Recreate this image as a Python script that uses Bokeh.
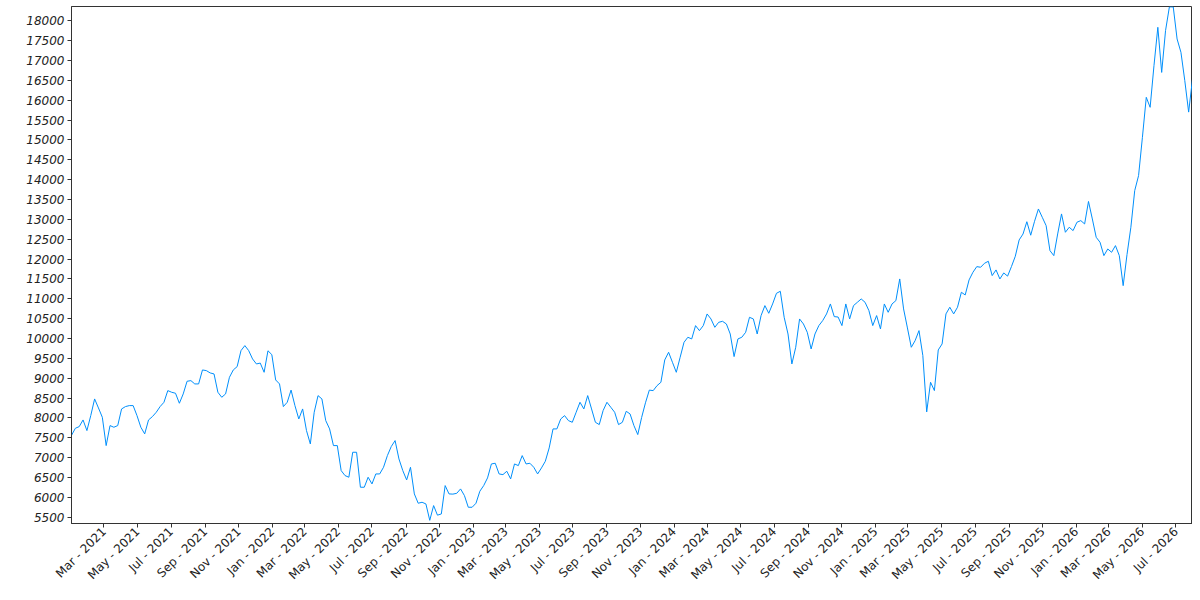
import math
import pandas as pd
from bokeh.plotting import figure
from bokeh.models import (ColumnDataSource, LinearAxis, FixedTicker,
                          DatetimeTickFormatter, Range1d)
from bokeh.embed import file_html
from bokeh.resources import INLINE

# ---- data (weekly readings) ----
start_date = "2021-01-01"
end_date = "2026-07-31"
values = [
    7560, 7738, 7780, 7948, 7680, 8057, 8477, 8250, 8015, 7302,
    7806, 7764, 7806, 8225, 8284, 8309, 8309, 8057, 7764, 7596,
    7948, 8032, 8141, 8284, 8393, 8687, 8645, 8620, 8368, 8603,
    8922, 8938, 8855, 8855, 9207, 9190, 9132, 9106, 8645, 8519,
    8603, 9022, 9207, 9291, 9694, 9820, 9694, 9484, 9358, 9380,
    9148, 9690, 9593, 8955, 8855, 8284, 8393, 8700, 8309, 7973,
    8225, 7680, 7344, 8141, 8560, 8477, 7931, 7722, 7302, 7302,
    6672, 6547, 6505, 7134, 7134, 6253, 6253, 6505, 6337, 6588,
    6588, 6756, 7050, 7277, 7428, 6966, 6672, 6437, 6756, 6085,
    5850, 5875, 5833, 5420, 5791, 5550, 5580, 6295, 6085, 6080,
    6100, 6211, 6043, 5749, 5749, 5850, 6152, 6295, 6488, 6840,
    6857, 6588, 6571, 6656, 6463, 6840, 6798, 7050, 6840, 6857,
    6756, 6588, 6740, 6907, 7243, 7722, 7722, 7973, 8057, 7931,
    7889, 8141, 8393, 8225, 8561, 8225, 7889, 7831, 8183, 8393,
    8267, 8141, 7831, 7889, 8166, 8099, 7806, 7579, 8010, 8380,
    8700, 8686, 8812, 8896, 9459, 9652, 9400, 9148, 9526, 9903,
    10030, 9988, 10323, 10197, 10323, 10617, 10491, 10281, 10407, 10432,
    10365, 10113, 9543, 9988, 10030, 10155, 10533, 10491, 10113, 10575,
    10827, 10634, 10869, 11137, 11188, 10533, 10113, 9358, 9778, 10491,
    10365, 10155, 9736, 10113, 10323, 10449, 10617, 10869, 10550, 10540,
    10324, 10869, 10492, 10827, 10911, 10995, 10911, 10701, 10324, 10576,
    10240, 10869, 10659, 10869, 10953, 11499, 10744, 10265, 9778, 9946,
    10198, 9569, 8150, 8897, 8687, 9711, 9862, 10618, 10786, 10618,
    10786, 11163, 11096, 11474, 11667, 11809, 11793, 11893, 11944, 11583,
    11726, 11499, 11650, 11570, 11810, 12070, 12481, 12630, 12940, 12600,
    12951, 13261, 13052, 12842, 12212, 12086, 12632, 13136, 12674, 12800,
    12716, 12926, 12968, 12884, 13450, 13010, 12548, 12422, 12086, 12254,
    12170, 12338, 12086, 11330, 12112, 12800, 13723, 14101, 15066, 16073,
    15821, 16870, 17836, 16700, 17752, 18350, 18350, 17542, 17206, 16493,
    15700, 16535,
]
dates = pd.date_range(start_date, periods=len(values), freq="7D")
x_tick_dates = pd.date_range("2021-03-01", "2026-07-01", freq="2MS")
y_ticks = list(range(5500, 18001, 500))
y_min, y_max = 5340, 18360

source = ColumnDataSource(dict(date=dates, value=values))

p = figure(frame_width=1121, frame_height=517,
           x_axis_type="datetime", y_axis_location=None,
           x_range=Range1d(pd.Timestamp(start_date), pd.Timestamp(end_date)),
           y_range=Range1d(y_min, y_max),
           toolbar_location=None, output_backend="svg",
           min_border_left=71, min_border_right=0,
           min_border_top=6, min_border_bottom=0)
p.grid.visible = False
p.outline_line_color = "#333333"
p.background_fill_color = "white"
p.border_fill_color = "white"

yaxis = LinearAxis(ticker=FixedTicker(ticks=y_ticks),
                   axis_line_color="#333333", major_tick_line_color="#333333",
                   major_tick_out=4, major_tick_in=0,
                   minor_tick_line_color=None,
                   major_label_standoff=3,
                   major_label_text_font="DejaVu Sans",
                   major_label_text_font_size="12px",
                   major_label_text_font_style="italic",
                   major_label_text_color="#222222")
# spacer axis (one invisible tick, empty label) detaches the y axis from the frame
spacer_tick = float(y_min + 1)
spacer = LinearAxis(ticker=FixedTicker(ticks=[spacer_tick]), axis_line_color=None,
                    major_tick_line_color=None, minor_tick_line_color=None,
                    major_tick_out=15, major_tick_in=0, minor_tick_out=0,
                    major_label_overrides={spacer_tick: ""},
                    major_label_standoff=0)
p.add_layout(yaxis, "left")
p.add_layout(spacer, "left")

xa = p.xaxis[0]
xa.ticker = FixedTicker(ticks=[int(t.value // 10**6) for t in x_tick_dates])
fmt = "%b - %Y"
xa.formatter = DatetimeTickFormatter(days=fmt, months=fmt, years=fmt,
                                     hours=fmt, minutes=fmt, hourmin=fmt)
xa.major_label_orientation = math.pi / 4
xa.major_tick_out = 4
xa.major_tick_in = 0
xa.minor_tick_line_color = None
xa.axis_line_color = "#333333"
xa.major_tick_line_color = "#333333"
xa.major_label_standoff = 2
xa.major_label_text_font = "DejaVu Sans"
xa.major_label_text_font_size = "12px"
xa.major_label_text_color = "#222222"

p.line("date", "value", source=source, line_color="#008FFB", line_width=1)

open("out.html", "w").write(file_html(p, INLINE))
